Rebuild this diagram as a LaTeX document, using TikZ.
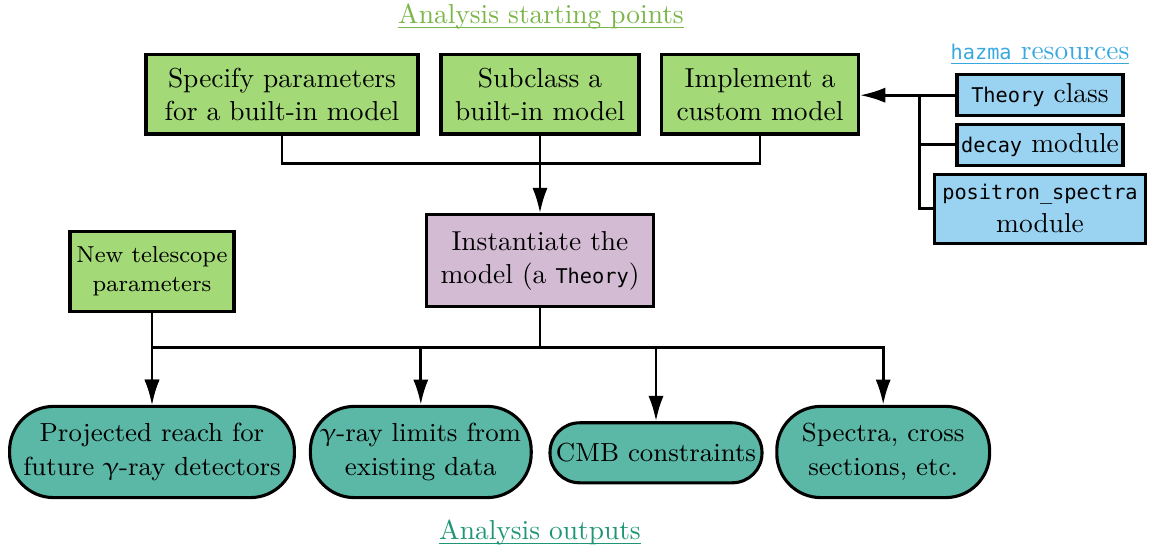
\documentclass[tikz,border=0pt]{standalone}
\usepackage{fontspec}
\setmonofont[Scale=0.74]{DejaVu Sans Mono}
\usepackage{upgreek}
\usepackage{tikz}
\usetikzlibrary{arrows.meta}
\definecolor{startgreen}{HTML}{A3D977}
\definecolor{startlabel}{HTML}{7AB648}
\definecolor{modelpurple}{HTML}{D3BBD4}
\definecolor{hazmablue}{HTML}{9AD3F2}
\definecolor{hazmalabel}{HTML}{3AA8E0}
\definecolor{outteal}{HTML}{5BB8A6}
\definecolor{outlabel}{HTML}{1E9676}
\newcommand{\titleline}[1]{\underline{\smash{#1}}}
\tikzset{
  box/.style={draw,line width=1.1pt,align=center,inner sep=1pt},
  startbox/.style={box,fill=startgreen,minimum height=0.99cm},
  hazmabox/.style={box,fill=hazmablue,minimum width=2.075cm},
  outbox/.style={box,fill=outteal,font=\fontsize{9.3}{12}\selectfont},
  title/.style={anchor=base,inner sep=0pt},
  link/.style={line width=1pt},
  arr/.style={link,-{Latex[length=9pt,width=5.4pt]}}
}

\begin{document}
\begin{tikzpicture}[font=\fontsize{9.75}{11.8}\selectfont]
  \useasboundingbox (0,0) rectangle (14.4,-6.85);

  % Starting points
  \node[title] (start) at (6.7625,-0.3) {\color{startlabel}\titleline{Analysis starting points}};
  \node[startbox,minimum width=3.4cm] (spec) at (3.525,-1.18) {Specify parameters\\for a built-in model};
  \node[startbox,minimum width=2.475cm] (sub) at (6.75,-1.18) {Subclass a\\built-in model};
  \node[startbox,minimum width=2.46cm] (impl) at (9.5,-1.18) {Implement a\\custom model};

  % hazma resources
  \node[title] (hazma) at (13.0,-0.75) {\color{hazmalabel}\titleline{\texttt{hazma} resources}};
  \node[hazmabox,minimum height=0.51cm] (theory) at (13.0,-1.19) {\texttt{Theory} class};
  \node[hazmabox,minimum height=0.51cm] (decay) at (13.0,-1.81) {\texttt{decay} module};
  \node[hazmabox,minimum width=2.64cm,minimum height=0.86cm] (positron) at (13.0,-2.61) {\texttt{positron\_spectra}\\module};
  \coordinate (branch) at (11.49,-1.19);

  % Model
  \node[box,fill=modelpurple,minimum width=2.84cm,minimum height=1.15cm] (inst) at (6.75,-3.26) {Instantiate the\\model (a \texttt{Theory})};
  \node[startbox,font=\fontsize{8.2}{10.6}\selectfont,minimum width=2.05cm,minimum height=1.0cm] (telescope) at (1.9,-3.39) {New telescope\\parameters};
  \coordinate (merge) at (6.75,-2.04);
  \coordinate (bus) at (6.75,-4.34);

  % Outputs
  \node[outbox,rounded corners=0.55cm,minimum width=3.56cm,minimum height=1.14cm] (reach) at (1.9,-5.65) {Projected reach for\\future $\upgamma$-ray detectors};
  \node[outbox,rounded corners=0.55cm,minimum width=2.76cm,minimum height=1.14cm] (limits) at (5.26,-5.65) {$\upgamma$-ray limits from\\existing data};
  \node[outbox,rounded corners=0.37cm,minimum width=2.65cm,minimum height=0.75cm] (cmb) at (8.2,-5.66) {CMB constraints};
  \node[outbox,rounded corners=0.55cm,minimum width=2.66cm,minimum height=1.14cm] (spectra) at (11.04,-5.65) {Spectra, cross\\sections, etc.};
  \node[title] (outputs) at (6.75,-6.75) {\color{outlabel}\titleline{Analysis outputs}};

  % Connections
  \draw[arr] (theory.west) -- (theory.west -| impl.east);
  \draw[link] (decay.west) -- (decay.west -| branch);
  \draw[link] (positron.west) -| (branch);
  \draw[link] (spec.south) |- (merge) -| (impl.south);
  \draw[arr] (sub.south) -- (inst.north);
  \draw[link] (inst.south) -- (bus);
  \draw[arr] (telescope.south) -- (reach.north);
  \draw[arr] (bus) -| (reach.north);
  \draw[arr] (bus) -| (limits.north);
  \draw[arr] (bus) -| (cmb.north);
  \draw[arr] (bus) -| (spectra.north);

\end{tikzpicture}
\end{document}
